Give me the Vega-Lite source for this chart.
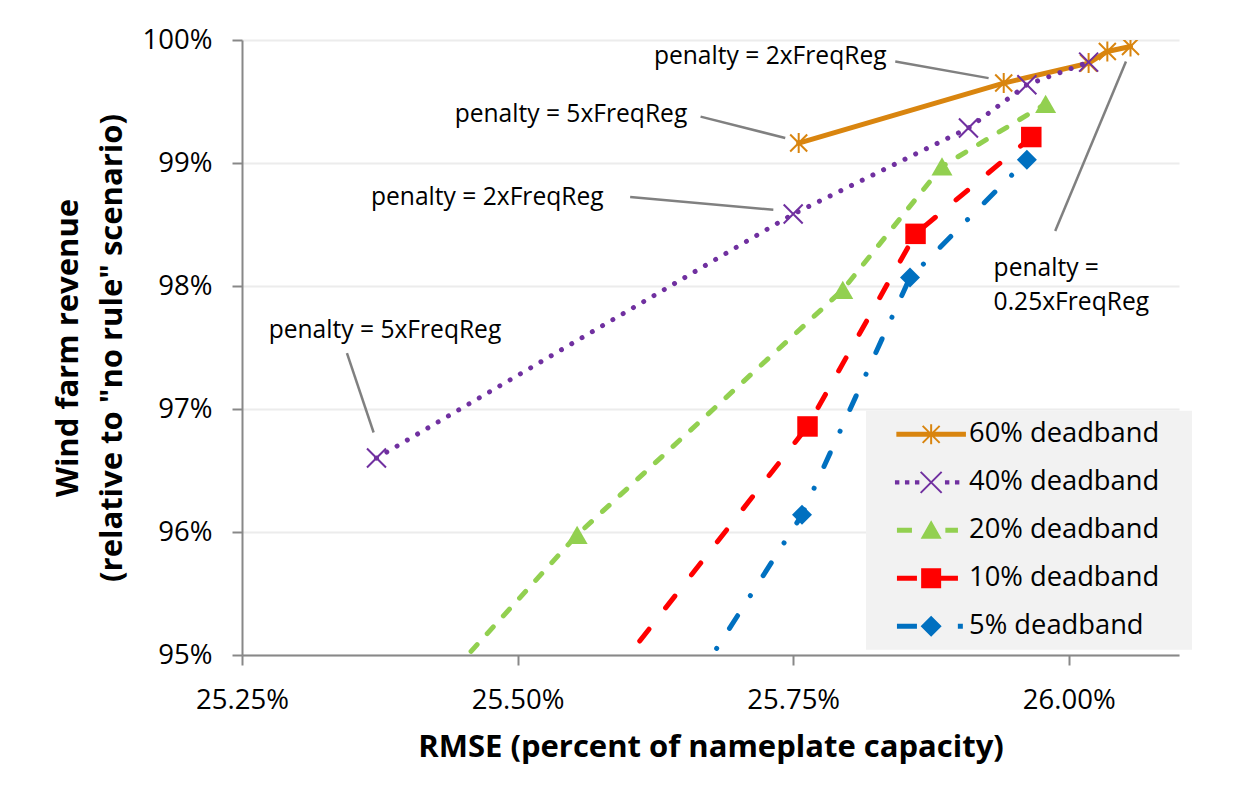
{
  "$schema": "https://vega.github.io/schema/vega-lite/v6.json",
  "width": 937,
  "height": 615,
  "autosize": {"type": "none"},
  "padding": {"left": 242, "top": 40, "right": 76, "bottom": 142},
  "background": "white",
  "config": {
    "view": {"stroke": null},
    "font": "Open Sans",
    "legend": {"symbolOpacity": 1}
  },
  "datasets": {
    "pts": [
      {"series": "60% deadband", "k": 1, "x": 25.755, "y": 99.162},
      {"series": "60% deadband", "k": 2, "x": 25.941, "y": 99.650},
      {"series": "60% deadband", "k": 3, "x": 26.018, "y": 99.812},
      {"series": "60% deadband", "k": 4, "x": 26.035, "y": 99.907},
      {"series": "60% deadband", "k": 5, "x": 26.056, "y": 99.947},
      {"series": "40% deadband", "k": 1, "x": 25.372, "y": 96.601},
      {"series": "40% deadband", "k": 2, "x": 25.750, "y": 98.585},
      {"series": "40% deadband", "k": 3, "x": 25.909, "y": 99.284},
      {"series": "40% deadband", "k": 4, "x": 25.962, "y": 99.636},
      {"series": "40% deadband", "k": 5, "x": 26.018, "y": 99.820},
      {"series": "20% deadband", "k": 1, "x": 25.15, "y": 92.0},
      {"series": "20% deadband", "k": 2, "x": 25.554, "y": 95.977},
      {"series": "20% deadband", "k": 3, "x": 25.795, "y": 97.969},
      {"series": "20% deadband", "k": 4, "x": 25.885, "y": 98.972},
      {"series": "20% deadband", "k": 5, "x": 25.979, "y": 99.481},
      {"series": "10% deadband", "k": 2, "x": 25.47, "y": 93.5},
      {"series": "10% deadband", "k": 3, "x": 25.763, "y": 96.858},
      {"series": "10% deadband", "k": 4, "x": 25.861, "y": 98.424},
      {"series": "10% deadband", "k": 5, "x": 25.966, "y": 99.211},
      {"series": "5% deadband", "k": 2, "x": 25.57, "y": 93.5},
      {"series": "5% deadband", "k": 3, "x": 25.758, "y": 96.140},
      {"series": "5% deadband", "k": 4, "x": 25.856, "y": 98.069},
      {"series": "5% deadband", "k": 5, "x": 25.962, "y": 99.026}
    ],
    "annc": [
      {"x": 25.7292, "y": 99.863, "t": "penalty = 2xFreqReg"},
      {"x": 25.5484, "y": 99.393, "t": "penalty = 5xFreqReg"},
      {"x": 25.4725, "y": 98.715, "t": "penalty = 2xFreqReg"},
      {"x": 25.3797, "y": 97.631, "t": "penalty = 5xFreqReg"}
    ],
    "annl": [
      {"x": 25.9318, "y": 98.1365, "t": "penalty =\n0.25xFreqReg"}
    ],
    "lead": [
      {"x": 25.8426, "y": 99.825, "x2": 25.9273, "y2": 99.690},
      {"x": 25.666, "y": 99.377, "x2": 25.7428, "y2": 99.203},
      {"x": 25.6021, "y": 98.723, "x2": 25.732, "y2": 98.620},
      {"x": 25.3452, "y": 97.455, "x2": 25.3694, "y2": 96.809},
      {"x": 25.9877, "y": 98.4466, "x2": 26.0519, "y2": 99.8252}
    ]
  },
  "encoding": {
    "x": {
      "field": "x", "type": "quantitative",
      "scale": {"domain": [25.25, 26.1], "nice": false, "zero": false},
      "axis": {
        "values": [25.25, 25.5, 25.75, 26.0],
        "labelExpr": "format(datum.value, '.2f') + '%'",
        "grid": false, "labelFlush": false,
        "domainColor": "#888888", "domainWidth": 2,
        "tickColor": "#888888", "tickWidth": 2, "tickSize": 10,
        "labelFont": "Open Sans", "labelFontSize": 27.5, "labelColor": "#000000", "labelPadding": 21,
        "title": "RMSE (percent of nameplate capacity)",
        "titleFont": "Open Sans", "titleFontSize": 31, "titleFontWeight": "bold", "titleColor": "#000000",
        "titleX": 468.5, "titleY": 92, "titleAlign": "center", "titleBaseline": "middle"
      }
    },
    "y": {
      "field": "y", "type": "quantitative",
      "scale": {"domain": [95, 100], "nice": false, "zero": false},
      "axis": {
        "values": [95, 96, 97, 98, 99, 100],
        "labelExpr": "format(datum.value, '.0f') + '%'",
        "grid": true, "gridColor": "#ececec", "gridWidth": 2, "labelFlush": false,
        "domainColor": "#888888", "domainWidth": 2,
        "tickColor": "#888888", "tickWidth": 2, "tickSize": 10,
        "labelFont": "Open Sans", "labelFontSize": 27.5, "labelColor": "#000000", "labelPadding": 20,
        "title": ["Wind farm revenue", "(relative to \"no rule\" scenario)"],
        "titleFont": "Open Sans", "titleFontSize": 31, "titleFontWeight": "bold", "titleColor": "#000000",
        "titleAngle": -90, "titleX": -174, "titleY": 307.5, "titleAlign": "center", "titleBaseline": "middle",
        "titleLineHeight": 44
      }
    }
  },
  "layer": [
    {
      "data": {"name": "lead"},
      "mark": {"type": "rule", "color": "#808080", "strokeWidth": 2.5},
      "encoding": {"x2": {"field": "x2"}, "y2": {"field": "y2"}}
    },
    {
      "data": {"name": "pts"},
      "transform": [{"filter": "datum.series === '60% deadband'"}],
      "mark": {"type": "line", "color": "#D9850F", "strokeWidth": 5, "strokeCap": "round", "clip": true},
      "encoding": {"order": {"field": "k", "type": "quantitative"}}
    },
    {
      "data": {"name": "pts"},
      "transform": [{"filter": "datum.series === '40% deadband'"}],
      "mark": {"type": "line", "color": "#7030A0", "strokeWidth": 5, "strokeCap": "round", "strokeDash": [0.01, 11.9], "clip": true},
      "encoding": {"order": {"field": "k", "type": "quantitative"}}
    },
    {
      "data": {"name": "pts"},
      "transform": [{"filter": "datum.series === '20% deadband'"}],
      "mark": {"type": "line", "color": "#92D050", "strokeWidth": 5, "strokeCap": "round", "strokeDash": [9, 15], "clip": true},
      "encoding": {"order": {"field": "k", "type": "quantitative"}}
    },
    {
      "data": {"name": "pts"},
      "transform": [{"filter": "datum.series === '10% deadband'"}],
      "mark": {"type": "line", "color": "#FF0000", "strokeWidth": 5, "strokeCap": "round", "strokeDash": [15, 27], "clip": true},
      "encoding": {"order": {"field": "k", "type": "quantitative"}}
    },
    {
      "data": {"name": "pts"},
      "transform": [{"filter": "datum.series === '5% deadband'"}],
      "mark": {"type": "line", "color": "#0070C0", "strokeWidth": 5, "strokeCap": "round", "strokeDash": [15, 23.8, 0.01, 23.8], "clip": true},
      "encoding": {"order": {"field": "k", "type": "quantitative"}}
    },
    {
      "data": {"name": "pts"},
      "transform": [{"filter": "datum.series === '60% deadband'"}],
      "mark": {"type": "point", "shape": "M-0.85,-0.85L0.85,0.85M-0.85,0.85L0.85,-0.85M0,-1L0,1", "size": 400, "filled": false, "color": "#D9850F", "strokeWidth": 2, "opacity": 1, "clip": true}
    },
    {
      "data": {"name": "pts"},
      "transform": [{"filter": "datum.series === '40% deadband'"}],
      "mark": {"type": "point", "shape": "M-1,-1L1,1M-1,1L1,-1", "size": 361, "filled": false, "color": "#7030A0", "strokeWidth": 2, "opacity": 1, "clip": true}
    },
    {
      "data": {"name": "pts"},
      "transform": [{"filter": "datum.series === '20% deadband'"}],
      "mark": {"type": "point", "shape": "triangle-up", "size": 441, "filled": true, "color": "#92D050", "strokeWidth": 0, "opacity": 1, "clip": true}
    },
    {
      "data": {"name": "pts"},
      "transform": [{"filter": "datum.series === '10% deadband'"}],
      "mark": {"type": "point", "shape": "square", "size": 420, "filled": true, "color": "#FF0000", "strokeWidth": 0, "opacity": 1, "clip": true}
    },
    {
      "data": {"name": "pts"},
      "transform": [{"filter": "datum.series === '5% deadband'"}],
      "mark": {"type": "point", "shape": "diamond", "size": 400, "filled": true, "color": "#0070C0", "strokeWidth": 0, "opacity": 1, "clip": true}
    },
    {
      "data": {"name": "pts"},
      "mark": {"type": "point", "filled": true, "opacity": 0, "size": 400},
      "encoding": {
        "color": {
          "field": "series", "type": "nominal",
          "scale": {"domain": ["60% deadband", "40% deadband", "20% deadband", "10% deadband", "5% deadband"],
                    "range": ["#D9850F", "#7030A0", "#92D050", "#FF0000", "#0070C0"]},
          "legend": {
            "orient": "none", "legendX": 624, "legendY": 370.7, "direction": "vertical",
            "title": null, "fillColor": "#f2f2f2", "padding": 10,
            "symbolSize": 400, "symbolStrokeWidth": 0, "symbolOffset": 41.5, "labelOffset": 24.3,
            "labelFont": "Open Sans", "labelFontSize": 27.3, "labelColor": "#000000", "labelLimit": 500,
            "rowPadding": 20, "symbolOpacity": 1
          }
        },
        "shape": {
          "field": "series", "type": "nominal",
          "scale": {
            "domain": ["60% deadband", "40% deadband", "20% deadband", "10% deadband", "5% deadband"],
            "range": [
              "M-3.48,-0.25H3.48V0.25H-3.48Z M-0.1,-1H0.1V1H-0.1Z M-0.78,-0.92L0.92,0.78L0.78,0.92L-0.92,-0.78Z M-0.92,0.78L0.78,-0.92L0.92,-0.78L-0.78,0.92Z M25.05,0L25.05,0",
              "M-3.62,-0.22H-3.18V0.22H-3.62Z M-2.62,-0.22H-2.18V0.22H-2.62Z M-1.62,-0.22H-1.18V0.22H-1.62Z M1.38,-0.22H1.82V0.22H1.38Z M2.38,-0.22H2.82V0.22H2.38Z M-0.98,-1.12L1.12,0.98L0.98,1.12L-1.12,-0.98Z M-1.12,0.98L0.98,-1.12L1.12,-0.98L-0.98,1.12Z",
              "M-3.42,-0.25H-1.92V0.25H-3.42Z M1.42,-0.25H2.68V0.25H1.42Z M0,-1L1.05,0.85L-1.05,0.85Z",
              "M-3.42,-0.25H-1.42V0.25H-3.42Z M-1,-1H1V1H-1Z M1,-0.25H2.68V0.25H1Z",
              "M-3.42,-0.25H-1.42V0.25H-3.42Z M0,-1.05L1.05,0L0,1.05L-1.05,0Z M2.67,-0.25H3.17V0.25H2.67Z"
            ]
          },
          "legend": {
            "orient": "none", "legendX": 624, "legendY": 370.7, "direction": "vertical",
            "title": null, "fillColor": "#f2f2f2", "padding": 10,
            "symbolSize": 400, "symbolStrokeWidth": 0, "symbolOffset": 41.5, "labelOffset": 24.3,
            "labelFont": "Open Sans", "labelFontSize": 27.3, "labelColor": "#000000", "labelLimit": 500,
            "rowPadding": 20, "symbolOpacity": 1
          }
        }
      }
    },
    {
      "data": {"name": "annc"},
      "mark": {"type": "text", "align": "center", "baseline": "middle", "font": "Open Sans", "fontSize": 24.6, "color": "#000000"},
      "encoding": {"text": {"field": "t", "type": "nominal"}}
    },
    {
      "data": {"name": "annl"},
      "mark": {"type": "text", "align": "left", "baseline": "middle", "font": "Open Sans", "fontSize": 24.6, "lineHeight": 33.5, "lineBreak": "\n", "color": "#000000"},
      "encoding": {"text": {"field": "t", "type": "nominal"}}
    }
  ]
}
